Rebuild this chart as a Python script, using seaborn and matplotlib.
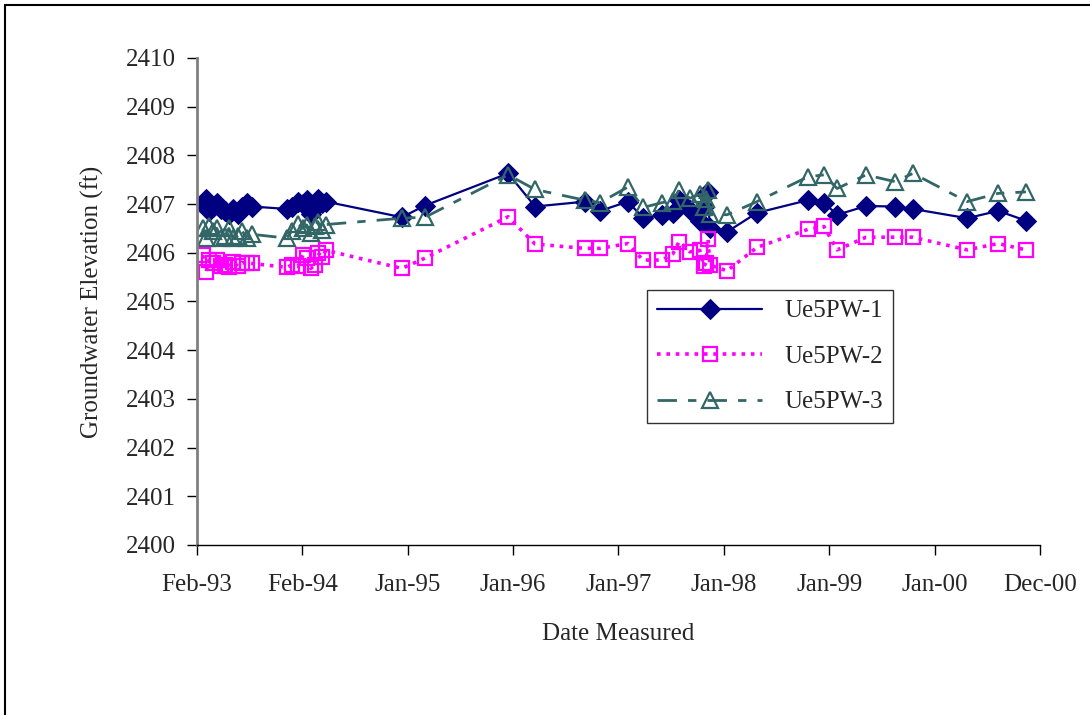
import matplotlib
matplotlib.use('Agg')
import matplotlib.pyplot as plt
import matplotlib.dates as mdates
from matplotlib.lines import Line2D
import pandas as pd
import seaborn as sns

# measurement dates (shared by all three wells)
dates = [
    '1993-02-28', '1993-03-11', '1993-03-21', '1993-04-04', '1993-04-17',
    '1993-05-01', '1993-05-15', '1993-05-28', '1993-06-11', '1993-06-28',
    '1993-07-12', '1993-07-29', '1993-08-15',
    '1993-12-12', '1993-12-29', '1994-01-19', '1994-02-05', '1994-02-18',
    '1994-03-04', '1994-03-18', '1994-03-28', '1994-04-11', '1994-04-25',
    '1995-01-09', '1995-03-29', '1996-01-07', '1996-04-08', '1996-09-25',
    '1996-11-16', '1997-02-19', '1997-04-12', '1997-06-16', '1997-07-23',
    '1997-08-13', '1997-09-19', '1997-10-23', '1997-11-06', '1997-11-13',
    '1997-11-20', '1997-11-26', '1998-01-24', '1998-05-06', '1998-10-27',
    '1998-12-21', '1999-02-04', '1999-05-14', '1999-08-21', '1999-10-21',
    '2000-04-23', '2000-08-07', '2000-11-10',
]

pw1 = [
    2407.00, 2407.10, 2406.85, 2406.95, 2407.02, 2406.90, 2406.85, 2406.80,
    2406.90, 2406.80, 2406.95, 2407.02, 2406.95,
    2406.90, 2406.95, 2407.05, 2407.00, 2407.08, 2406.80, 2406.95, 2407.10,
    2407.02, 2407.05,
    2406.73, 2406.97, 2407.63, 2406.95, 2407.05, 2406.86, 2407.05, 2406.72,
    2406.77, 2406.82, 2407.09, 2406.87, 2406.66, 2406.95, 2407.20, 2407.25,
    2406.50, 2406.43, 2406.82, 2407.08, 2407.03, 2406.78, 2406.96, 2406.95,
    2406.90, 2406.71, 2406.86, 2406.66,
]

pw2 = [
    2405.95, 2405.60, 2405.85, 2405.80, 2405.85, 2405.72, 2405.75, 2405.70,
    2405.82, 2405.72, 2405.80, 2405.78, 2405.78,
    2405.70, 2405.75, 2405.72, 2405.95, 2405.90, 2405.68, 2405.75, 2406.00,
    2405.92, 2406.05,
    2405.68, 2405.89, 2406.74, 2406.18, 2406.09, 2406.09, 2406.19, 2405.85,
    2405.85, 2405.98, 2406.23, 2406.02, 2406.05, 2405.72, 2405.80, 2406.28,
    2405.75, 2405.63, 2406.11, 2406.48, 2406.54, 2406.06, 2406.32, 2406.32,
    2406.32, 2406.06, 2406.19, 2406.06,
]

pw3 = [
    2406.50, 2406.30, 2406.55, 2406.45, 2406.50, 2406.30, 2406.35, 2406.50,
    2406.30, 2406.35, 2406.45, 2406.30, 2406.38,
    2406.30, 2406.45, 2406.60, 2406.50, 2406.57, 2406.40, 2406.55, 2406.64,
    2406.47, 2406.58,
    2406.71, 2406.73, 2407.60, 2407.30, 2407.08, 2407.03, 2407.35, 2406.93,
    2407.03, 2407.07, 2407.29, 2407.12, 2407.20, 2406.95, 2407.10, 2407.28,
    2406.80, 2406.78, 2407.05, 2407.56, 2407.60, 2407.32, 2407.60, 2407.46,
    2407.63, 2407.05, 2407.22, 2407.25,
]

wells = ['Ue5PW-1', 'Ue5PW-2', 'Ue5PW-3']
yticks = list(range(2400, 2411))

df = pd.DataFrame({'date': pd.to_datetime(dates),
                   'Ue5PW-1': pw1, 'Ue5PW-2': pw2, 'Ue5PW-3': pw3})

sns.set_style('ticks')
plt.rcParams['font.family'] = ['Liberation Serif', 'DejaVu Serif']

fig = plt.figure(figsize=(10.9, 7.15), dpi=100)
ax = fig.add_axes([0.1807, 0.2378, 0.7734, 0.6811])

styles = {
    'Ue5PW-1': dict(color='#000080', marker='D', markersize=10,
                    markerfacecolor='#000080', markeredgecolor='#000080',
                    linestyle='-', linewidth=1.6),
    'Ue5PW-2': dict(color='#ff00ff', marker='s', markersize=10,
                    markerfacecolor='none', markeredgecolor='#ff00ff',
                    markeredgewidth=1.6, linestyle=(0, (1.0, 1.6)), linewidth=2.6),
    'Ue5PW-3': dict(color='#336666', marker='^', markersize=11,
                    markerfacecolor='none', markeredgecolor='#336666',
                    markeredgewidth=1.6, linestyle=(0, (7, 4, 3, 4)), linewidth=2.0),
}

for w in wells:
    sns.lineplot(data=df, x='date', y=w, ax=ax, estimator=None, label=w,
                 **styles[w])

# Excel-like date axis: 9 ticks, 360 days apart
start = pd.Timestamp('1993-02-08')
xt = pd.date_range(start, periods=9, freq='360D')
ax.set_xlim(xt[0], xt[-1])
ax.set_xticks(xt)
ax.xaxis.set_major_formatter(mdates.DateFormatter('%b-%y'))
ax.set_ylim(2400, 2410)
ax.set_yticks(yticks)

ax.tick_params(axis='both', labelsize=18, direction='out', length=7,
               width=1.0, color='black')
ax.tick_params(axis='x', pad=14)
ax.tick_params(axis='y', pad=8)

sns.despine(ax=ax)
ax.spines['left'].set_color('#808080')
ax.spines['left'].set_linewidth(2.0)
ax.spines['bottom'].set_color('black')
ax.spines['bottom'].set_linewidth(1.0)

ax.set_xlabel('Date Measured', fontsize=18, labelpad=19)
ax.set_ylabel('Groundwater Elevation (ft)', fontsize=18, labelpad=16)

leg = ax.legend(loc='upper left', bbox_to_anchor=(0.534, 0.524),
                fontsize=18, frameon=True, fancybox=False, handlelength=4.2,
                labelspacing=0.92, borderpad=0.4, handletextpad=0.9,
                borderaxespad=0)
leg.get_frame().set_edgecolor('black')
leg.get_frame().set_linewidth(1.0)

# chart-area border (top and left edges only)
fig.add_artist(Line2D([5 / 1090, 1], [1 - 5 / 715, 1 - 5 / 715],
                      transform=fig.transFigure, color='black', lw=1.5))
fig.add_artist(Line2D([5 / 1090, 5 / 1090], [0, 1 - 5 / 715],
                      transform=fig.transFigure, color='black', lw=1.5))

fig.savefig('out.png', dpi=100, facecolor='white')
